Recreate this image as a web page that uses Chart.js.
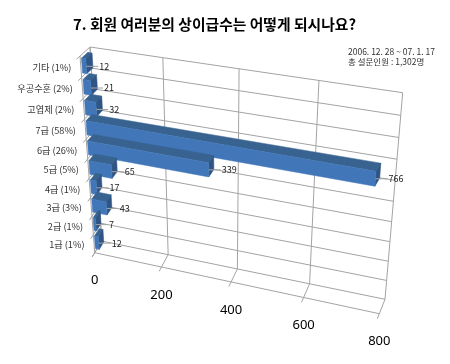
<!DOCTYPE html>
<html>
<head>
<meta charset="utf-8">
<script src="https://cdn.jsdelivr.net/npm/chart.js@4"></script>
<style>
  html, body { margin: 0; padding: 0; background: #fff; }
  canvas { display: block; }
</style>
</head>
<body>
<canvas id="rankChart" width="450" height="364"></canvas>
<script>
const categories = ['기타 (1%)', '우공수훈 (2%)', '고엽제 (2%)', '7급 (58%)', '6급 (26%)', '5급 (5%)', '4급 (1%)', '3급 (3%)', '2급 (1%)', '1급 (1%)'];
const respondents = [12, 21, 32, 766, 339, 65, 17, 43, 7, 12];
const axisMax = 800;
const axisStep = 200;
const chartTitle = '7. 회원 여러분의 상이급수는 어떻게 되시나요?';
const surveyNote = ['2006. 12. 28 ~ 07. 1. 17', '총 설문인원 : 1,302명'];

const KR_FONT = '"Noto Sans CJK KR", "Noto Sans", sans-serif';
const GRID = '#a3a3a3';

// corners of the box on screen: top-left, top-right, bottom-right, bottom-left
const backWall = [[90, 47], [402.7, 92.7], [385, 299.3], [101.7, 241]];
const frontWall = [[80, 56], [394, 104.7], [379.3, 313.7], [94.7, 252.7]];
const BAR_FRONT = 0.12;
const BAR_BACK = 0.76;

function makeHomography(q) {
    const [[x0, y0], [x1, y1], [x2, y2], [x3, y3]] = q;
    const dx1 = x1 - x2, dx2 = x3 - x2, sx = x0 - x1 + x2 - x3;
    const dy1 = y1 - y2, dy2 = y3 - y2, sy = y0 - y1 + y2 - y3;
    const den = dx1 * dy2 - dx2 * dy1;
    const g = (sx * dy2 - dx2 * sy) / den;
    const h = (dx1 * sy - sx * dy1) / den;
    const a = x1 - x0 + g * x1, b = x3 - x0 + h * x3;
    const d = y1 - y0 + g * y1, e = y3 - y0 + h * y3;
    return (u, v) => {
        const w = g * u + h * v + 1;
        return [(a * u + b * v + x0) / w, (d * u + e * v + y0) / w];
    };
}
const toBack = makeHomography(backWall);
const toFront = makeHomography(frontWall);

// flat chart-area pixel -> screen point; depth 0 is the front of the box, 1 the back wall
function project(chart, px, py, depth) {
    const area = chart.chartArea;
    const u = (px - area.left) / area.width;
    const v = (py - area.top) / area.height;
    const f = toFront(u, v), b = toBack(u, v);
    return [f[0] + (b[0] - f[0]) * depth, f[1] + (b[1] - f[1]) * depth];
}

function strokeLine(ctx, a, b) {
    ctx.beginPath();
    ctx.moveTo(a[0], a[1]);
    ctx.lineTo(b[0], b[1]);
    ctx.stroke();
}

function fillFace(ctx, pts, color) {
    ctx.fillStyle = color;
    ctx.strokeStyle = color;
    ctx.lineWidth = 0.5;
    ctx.beginPath();
    pts.forEach((p, i) => i ? ctx.lineTo(p[0], p[1]) : ctx.moveTo(p[0], p[1]));
    ctx.closePath();
    ctx.fill();
    ctx.stroke();
}

function drawWalls(chart) {
    const { ctx, chartArea: area, scales } = chart;
    const left = area.left, right = area.right, top = area.top, bottom = area.bottom;
    ctx.save();
    ctx.strokeStyle = GRID;
    ctx.lineWidth = 1;

    // category lines: back wall, side wall and a stub past the front edge
    categories.concat('').forEach((_, i) => {
        const y = top + (bottom - top) * i / categories.length;
        strokeLine(ctx, project(chart, left, y, 1), project(chart, right, y, 1));
        strokeLine(ctx, project(chart, left, y, 1), project(chart, left, y, -0.35));
    });
    strokeLine(ctx, project(chart, left, top, 1), project(chart, left, bottom, 1));
    strokeLine(ctx, project(chart, left, top, 0), project(chart, left, bottom, 0));
    strokeLine(ctx, project(chart, left, bottom, 0), project(chart, right, bottom, 0));

    // value lines: back wall, floor and tick stub
    scales.x.ticks.forEach(t => {
        const x = scales.x.getPixelForValue(t.value);
        strokeLine(ctx, project(chart, x, top, 1), project(chart, x, bottom, 1));
        strokeLine(ctx, project(chart, x, bottom, 1), project(chart, x, bottom, -0.35));
    });
    ctx.restore();
}

function drawBars(chart) {
    const ctx = chart.ctx;
    const bars = chart.getDatasetMeta(0).data;
    bars.forEach(el => {
        const t = el.y - el.height / 2, b = el.y + el.height / 2;
        const ftl = project(chart, el.base, t, BAR_FRONT), ftr = project(chart, el.x, t, BAR_FRONT);
        const fbl = project(chart, el.base, b, BAR_FRONT), fbr = project(chart, el.x, b, BAR_FRONT);
        const btl = project(chart, el.base, t, BAR_BACK), btr = project(chart, el.x, t, BAR_BACK);
        const bbr = project(chart, el.x, b, BAR_BACK);
        fillFace(ctx, [ftl, ftr, btr, btl], '#38628f');
        fillFace(ctx, [ftr, fbr, bbr, btr], '#2f5585');
        fillFace(ctx, [ftl, ftr, fbr, fbl], '#4176b9');
    });
}

function drawTexts(chart) {
    const { ctx, scales } = chart;
    const bars = chart.getDatasetMeta(0).data;
    ctx.save();

    // value labels with their short leader lines
    ctx.font = '9px ' + KR_FONT;
    ctx.textAlign = 'left';
    ctx.textBaseline = 'middle';
    bars.forEach((el, i) => {
        const p = project(chart, el.x, el.y, BAR_FRONT);
        ctx.strokeStyle = GRID;
        ctx.lineWidth = 1;
        strokeLine(ctx, p, [p[0] + 12, p[1]]);
        ctx.fillStyle = '#222';
        ctx.fillText(String(respondents[i]), p[0] + 13, p[1]);
    });

    // category labels along the front edge
    ctx.font = '9.2px ' + KR_FONT;
    ctx.textAlign = 'right';
    ctx.fillStyle = '#333';
    categories.forEach((label, i) => {
        const p = project(chart, chart.chartArea.left, scales.y.getPixelForValue(i), 0);
        ctx.fillText(label, p[0] - 9.5, p[1] + 1);
    });

    // value tick labels under the floor
    ctx.font = '13px "Noto Sans", sans-serif';
    ctx.textAlign = 'center';
    ctx.fillStyle = '#000';
    scales.x.ticks.forEach(t => {
        const p = project(chart, scales.x.getPixelForValue(t.value), chart.chartArea.bottom, 0);
        ctx.fillText(String(t.value), p[0], p[1] + 28);
    });

    // survey period note, top right
    ctx.font = '8.5px ' + KR_FONT;
    ctx.textAlign = 'left';
    ctx.fillStyle = '#333';
    surveyNote.forEach((line, i) => ctx.fillText(line, 348, 52 + i * 9.5));
    ctx.restore();
}

// The box is perspective, so the flat scales only supply pixel values and this plugin projects them.
const perspectivePlugin = {
    id: 'perspectiveBox',
    beforeDatasetsDraw(chart) {
        drawWalls(chart);
        drawBars(chart);
        drawTexts(chart);
        return false;
    }
};

new Chart(document.getElementById('rankChart').getContext('2d'), {
    type: 'bar',
    data: {
        labels: categories,
        datasets: [{
            data: respondents,
            backgroundColor: '#4176b9',
            categoryPercentage: 1,
            barPercentage: 0.7
        }]
    },
    options: {
        indexAxis: 'y',
        responsive: false,
        animation: false,
        layout: { padding: { right: 21 } },
        scales: {
            x: { display: false, min: 0, max: axisMax, ticks: { stepSize: axisStep } },
            y: { display: false }
        },
        plugins: {
            legend: { display: false },
            tooltip: { enabled: false },
            title: {
                display: true,
                text: chartTitle,
                color: '#000',
                font: { family: KR_FONT, size: 14.8, weight: 'bold' },
                padding: { top: 15, bottom: 10 }
            }
        }
    },
    plugins: [perspectivePlugin]
});
</script>
</body>
</html>
